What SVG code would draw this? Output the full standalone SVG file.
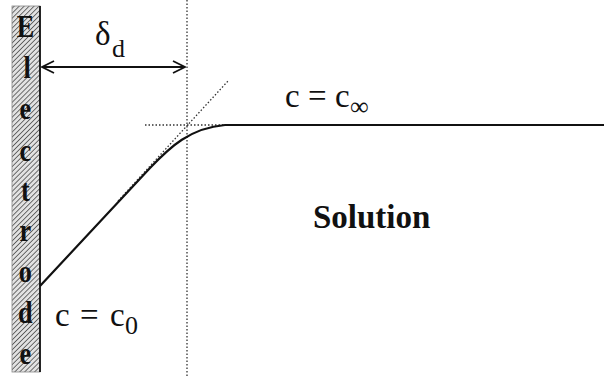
<svg xmlns="http://www.w3.org/2000/svg" width="604" height="378" viewBox="0 0 604 378">
<defs>
<pattern id="hatch" patternUnits="userSpaceOnUse" width="3.5" height="3.5" patternTransform="rotate(45)">
<rect width="3.5" height="3.5" fill="#e2e2e2"/>
<line x1="0" y1="0" x2="0" y2="3.5" stroke="#444" stroke-width="1.5"/>
</pattern>
<marker id="arr" viewBox="0 0 14 14" refX="13" refY="7" markerWidth="14" markerHeight="14" markerUnits="userSpaceOnUse" orient="auto-start-reverse">
<path d="M1,1 L13,7 L1,13" fill="none" stroke="#111" stroke-width="1.8"/>
</marker>
<style>
.letter{font-family:"Liberation Serif",serif;font-weight:bold;font-size:32px;fill:#111;text-anchor:middle}
.lbl{font-family:"Liberation Serif",serif;font-size:33px;fill:#111}
.sub{font-family:"Liberation Serif",serif;font-size:26px;fill:#111}
.dot{stroke:#333;stroke-width:1.3;stroke-dasharray:1.5 2;fill:none}
</style>
</defs>
<rect width="604" height="378" fill="#fff"/>
<g id="electrode">
<rect x="12" y="6" width="28" height="366" fill="url(#hatch)" stroke="#888" stroke-width="0.8"/>
<line x1="40" y1="6" x2="40" y2="372" stroke="#111" stroke-width="1.8"/>
<g transform="scale(0.82,1)">
<text class="letter" x="31" y="37">E</text>
<text class="letter" x="33" y="78">l</text>
<text class="letter" x="31" y="119">e</text>
<text class="letter" x="31" y="161">c</text>
<text class="letter" x="31" y="201">t</text>
<text class="letter" x="31" y="241">r</text>
<text class="letter" x="31" y="282">o</text>
<text class="letter" x="31" y="323">d</text>
<text class="letter" x="31" y="364">e</text>
</g>
</g>
<g id="connectors">
<line class="dot" x1="187" y1="0" x2="187" y2="378"/>
<line class="dot" x1="145" y1="125" x2="236" y2="125"/>
<line class="dot" x1="118" y1="201" x2="228" y2="81"/>
<line x1="42" y1="67" x2="185" y2="67" stroke="#111" stroke-width="1.8" marker-start="url(#arr)" marker-end="url(#arr)"/>
<path d="M40,286 L150,168 C170,147 190,128 225,125 L604,125" fill="none" stroke="#111" stroke-width="2.2"/>
</g>
<g id="labels">
<text class="lbl" x="95" y="45" font-size="34">δ</text>
<text class="sub" x="112" y="57">d</text>
<text class="lbl" x="285" y="107">c</text>
<text class="lbl" x="308" y="107">=</text>
<text class="lbl" x="335" y="107">c</text>
<text class="sub" x="350" y="115">∞</text>
<text class="lbl" x="55" y="326">c</text>
<text class="lbl" x="80" y="326">=</text>
<text class="lbl" x="110" y="326">c</text>
<text class="sub" x="125" y="334">0</text>
<text class="lbl" x="313" y="228" font-weight="bold" font-size="32">Solution</text>
</g>
</svg>
